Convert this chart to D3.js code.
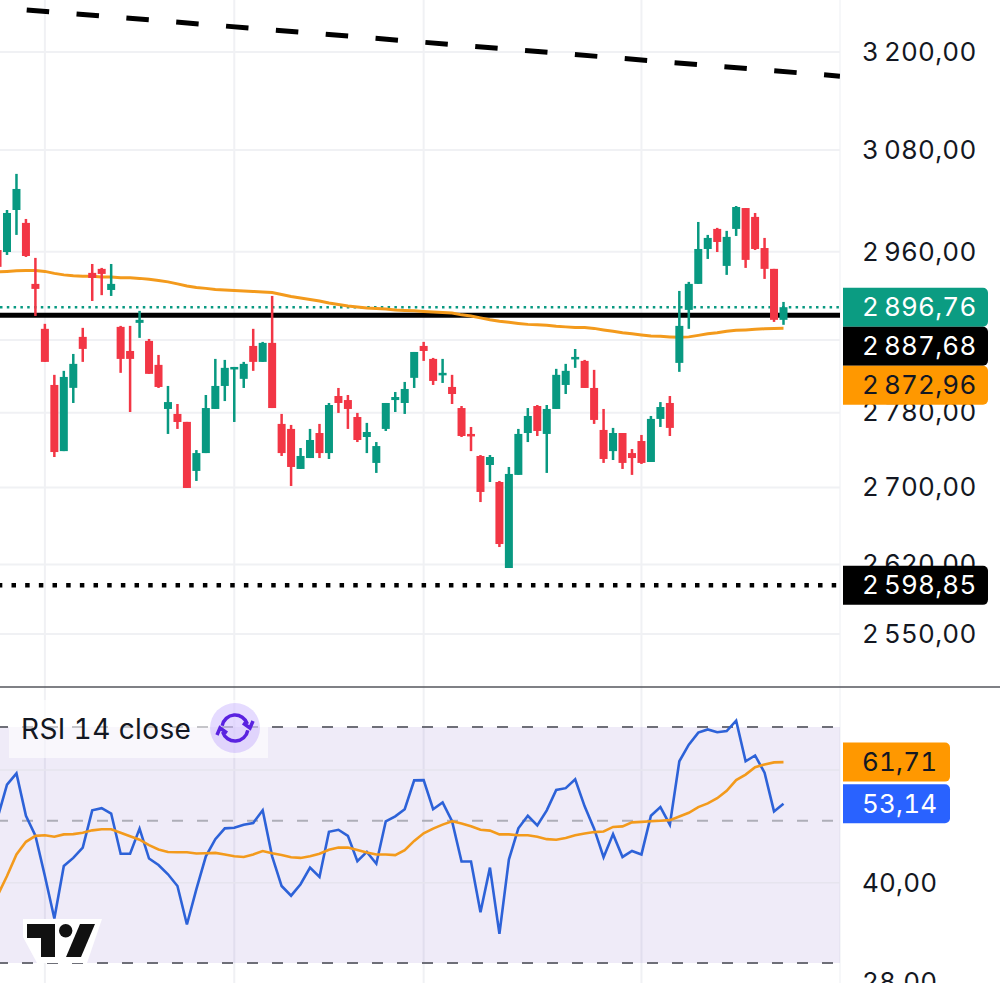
<!DOCTYPE html>
<html>
<head>
<meta charset="utf-8">
<script src="https://cdn.jsdelivr.net/npm/d3@7"></script>
<style>
html, body { margin: 0; padding: 0; background: #fff; overflow: hidden; }
svg { display: block; }
text { font-family: Inter, "Noto Sans", sans-serif; fill: #131722; font-variant-numeric: tabular-nums; }
</style>
</head>
<body>
<div id="chart"></div>
<script>
// Candles, the first one is cut by the left edge
var firstIndex = -1;
var openPrice = [2962.1,2959.8,3008.7,2993.6,2923.2,2872.4,2810.2,2738.6,2807,2863.4,2935.8,2940.4,2916.3,2874.6,2847.7,2879.1,2858.9,2832.3,2784,2778.6,2770,2717.5,2736.5,2784,2809.1,2827.9,2816.9,2853.3,2835.6,2856.7,2767.8,2762.4,2719.6,2731.2,2758,2736.5,2798.1,2793.7,2775.3,2753.7,2726,2762.4,2793.7,2790.5,2818,2853.3,2838.9,2822.4,2808,2785,2757,2733.4,2723.8,2705.8,2616.5,2713.3,2758,2787.2,2757,2784,2810.2,2838.9,2836.7,2806.9,2761.3,2738.6,2758,2736.5,2749.4,2727,2773.2,2790.5,2834.5,2893.7,2923.2,2963.3,2986.6,2943.8,2986.6,3011,3000.6,2964.4,2940.4,2882.5];
var highPrice = [2962.1,3008.7,3051.4,2998.2,2953,2878,2821.3,2825.7,2844.4,2873.5,2946,2941.5,2946,2875.7,2875.7,2892.6,2861.1,2843.3,2809.1,2789.4,2770,2739.7,2799.2,2838.9,2837.8,2830,2835.6,2872.4,2857.8,2909.5,2778.6,2766.7,2741.9,2762.4,2767.8,2790.5,2806.9,2799.2,2779.7,2768.9,2748.3,2790.5,2802.5,2813.5,2846.6,2857.8,2840,2838.9,2821.3,2787.2,2764.5,2734.4,2734.4,2706.9,2721.7,2762.4,2785,2788.3,2788.3,2827.9,2833.4,2849.9,2837.8,2826.8,2784,2763.5,2758,2740.8,2755.9,2776.4,2791.5,2798.1,2915.2,2925.5,2994.7,2979.6,2987.8,2984.3,3013.4,3011,3005.2,2976.1,2940.4,2902.7];
var lowPrice = [2942.7,2956.4,2979.6,2954.1,2886.9,2835.6,2732.3,2738.6,2790.5,2835.6,2903.8,2910.4,2909.5,2823.5,2780.7,2862.3,2822.4,2806.9,2757,2762.4,2699.5,2706.9,2736.5,2784,2792.6,2769.9,2806.9,2825.7,2835.6,2785,2733.4,2701.6,2719.6,2731.2,2731.2,2730.2,2779.7,2762.4,2748.3,2736.5,2715.4,2760.2,2780.7,2778.6,2806.9,2836.7,2810.2,2812.4,2789.4,2753.7,2738.6,2684.7,2705.8,2638,2616.5,2713.3,2748.3,2754.8,2715.4,2784,2800.3,2829,2806.9,2767.8,2726,2729.1,2719.6,2713.3,2724.9,2727,2764.5,2754.8,2824.6,2872.4,2923.2,2951.8,2959.8,2933.5,2978.4,2941.5,2962.1,2928.9,2880.2,2876.9];
var closePrice = [2942.7,3005.2,3033.5,2955.2,2917.5,2835.6,2737.6,2819,2833.4,2850,2930,2934.6,2923.2,2838.9,2838.9,2882.5,2822.4,2808,2791.5,2769.9,2699.5,2736.5,2785,2809.1,2829,2830,2833.4,2835.6,2856.7,2785,2736.5,2721.7,2733.4,2750.5,2736.5,2788.3,2790.5,2784,2750.5,2759.1,2744,2790.5,2797,2805.8,2846.6,2847.7,2814.6,2823.5,2800.3,2754.8,2754.8,2695.3,2732.3,2641.1,2714.3,2757,2776.4,2760.2,2784,2821.3,2825.7,2841.1,2806.9,2772.1,2730.2,2758,2726,2731.2,2726,2773.2,2786.1,2763.5,2875.7,2923.2,2963.3,2976.1,2971.4,2977.3,3012.2,2950.7,2963.3,2940.4,2882.5,2896.76];
var movingAvg = [2936.9,2937.5,2938.1,2938.6,2938.4,2937.5,2935.2,2933.5,2932.4,2931.8,2931.8,2931.2,2931.2,2930.1,2930.1,2929.5,2928.4,2927.2,2925.5,2923.2,2920.9,2919.2,2918.1,2916.9,2916.3,2915.8,2915.2,2914.6,2914.1,2913.5,2911.2,2908.9,2907.2,2905.5,2903.8,2901.5,2899.9,2898.2,2897,2895.9,2895.4,2894.8,2893.7,2893.1,2892.6,2892,2891.4,2890.9,2890.3,2888.1,2886.9,2884.7,2882.5,2880.8,2879.7,2878.5,2877.4,2876.9,2876.3,2875.2,2874.6,2874,2874,2872.9,2871.2,2869.6,2867.9,2866.8,2865.6,2864.5,2864,2863.4,2862.9,2863.4,2865.1,2866.8,2867.9,2869.6,2870.7,2871.2,2871.8,2872.4,2872.9,2872.96];

// RSI pane
var rsiValue = [50.5,56.9,59.26,50.9,47.4,41,35.2,42.5,43.75,45.4,51.9,52.3,51.3,44.4,44.4,48.6,43.65,42.65,41.25,39.55,34.45,39.1,44,46.8,48.65,48.75,49.3,49.6,51.9,44,39.55,38.2,39.8,42.25,40.85,48.05,48.4,47.35,43.25,44.7,42.85,49.9,50.8,52.1,57.8,57.85,52.1,53.4,49.9,43.2,43.2,36,42.25,33.3,43.5,48.65,50.9,49.15,51.9,55.85,56.2,58,52.65,48.6,43.85,47.65,43.9,44.85,44.3,50.9,52.5,49.3,61.9,65.7,68.6,69.4,68.7,69,71.6,61.9,63.2,59.4,51.7,53.14];
var rsiAvg = [38.2,41,44.3,46.35,47.35,47.45,47.2,47.6,47.65,47.9,48.3,48.5,48.5,47.9,47.3,46.7,45.8,45.1,44.7,44.65,44.65,44.45,44.5,44.55,44.3,44,43.9,44.3,44.85,44.5,44.2,43.85,43.75,44,44.4,45.05,45.4,45.4,45,44.6,44.3,44.3,44.2,45,46.5,47.8,48.6,49.3,49.9,49.5,49,48.4,48.25,47.6,47.6,47.45,47.45,47.2,46.8,46.7,47,47.45,47.75,48,48.1,48.9,49,49.7,49.8,49.9,50,50.1,50.75,51.45,52.5,53.2,54.2,55.65,57.85,59,60.6,61.2,61.65,61.71];

var priceTicks = [3200, 3080, 2960, 2860, 2780, 2700, 2620, 2550];
var hiddenPriceTicks = [2860]; // sits under the price tags
var rsiGrid = [60, 40];
var rsiDashed = [70, 50, 30];
var rsiTicks = [40, 28];
var timeGrid = [4, 24, 44, 67];
var trendIndex = [2.08, 87.96];
var trendPrice = [3253, 3170];
var lastClose = 2896.76, supportHigh = 2887.68, maLast = 2872.96, supportLow = 2598.85;
var rsiLast = 53.14, rsiAvgLast = 61.71;

var WIDTH = 1000, HEIGHT = 983;
var PLOT_RIGHT = 840, PANE_SPLIT = 687;
var UP = '#089981', DOWN = '#f23645', ORANGE = '#f39a1c', BLUE = '#2d62d8';

var locale = d3.formatLocale({ decimal: ',', thousands: '\u2009', grouping: [3], currency: ['', ''] });
var fmt = locale.format(',.2f');

var x = d3.scaleLinear().domain([firstIndex, 82]).range([-2.47, 783.5]);
var yPrice = d3.scaleLog().domain([3200, 2550]).range([52, 634]);
var yRsi = d3.scaleLog().domain([70, 30]).range([727, 963]);

var svg = d3.select('#chart').append('svg')
    .attr('width', WIDTH)
    .attr('height', HEIGHT);

var defs = svg.append('defs');
defs.append('clipPath').attr('id', 'price-clip').append('rect')
    .attr('width', PLOT_RIGHT).attr('height', PANE_SPLIT);
defs.append('clipPath').attr('id', 'rsi-clip').append('rect')
    .attr('y', PANE_SPLIT).attr('width', PLOT_RIGHT).attr('height', HEIGHT - PANE_SPLIT);

// time grid runs through both panes
svg.append('g').selectAll('line')
    .data(timeGrid)
  .enter().append('line')
    .attr('x1', function(d) { return x(d); })
    .attr('x2', function(d) { return x(d); })
    .attr('y1', 0)
    .attr('y2', HEIGHT)
    .attr('stroke', '#f0f1f4')
    .attr('stroke-width', 2);

svg.append('line')
    .attr('x1', PLOT_RIGHT).attr('x2', PLOT_RIGHT)
    .attr('y1', 0).attr('y2', HEIGHT)
    .attr('stroke', '#f3f4f7')
    .attr('stroke-width', 1.5);

// price pane
var pricePane = svg.append('g').attr('clip-path', 'url(#price-clip)');

pricePane.append('g').selectAll('line')
    .data(priceTicks)
  .enter().append('line')
    .attr('x1', 0)
    .attr('x2', PLOT_RIGHT)
    .attr('y1', function(d) { return yPrice(d); })
    .attr('y2', function(d) { return yPrice(d); })
    .attr('stroke', '#f0f1f4')
    .attr('stroke-width', 2);

function hline(value, width, dash, color, offset) {
    pricePane.append('line')
        .attr('x1', 0)
        .attr('x2', PLOT_RIGHT)
        .attr('y1', yPrice(value))
        .attr('y2', yPrice(value))
        .attr('stroke', color)
        .attr('stroke-width', width)
        .attr('stroke-dasharray', dash)
        .attr('stroke-dashoffset', offset || 0);
}
hline(lastClose, 2.5, '2.5,4.3', UP);
hline(supportHigh, 5, null, '#000');
hline(supportLow, 4.5, '4.5,9.17', '#000', 2.17);

var trend = d3.line()
    .x(function(d) { return x(d[0]); })
    .y(function(d) { return yPrice(d[1]); });
pricePane.append('path')
    .attr('d', trend(d3.zip(trendIndex, trendPrice)))
    .attr('fill', 'none')
    .attr('stroke', '#000')
    .attr('stroke-width', 5)
    .attr('stroke-dasharray', '22.5,27.5');

function seriesLine(scale) {
    return d3.line()
        .x(function(d, i) { return x(firstIndex + i); })
        .y(function(d) { return scale(d); });
}

pricePane.append('path')
    .attr('d', seriesLine(yPrice)(movingAvg))
    .attr('fill', 'none')
    .attr('stroke', ORANGE)
    .attr('stroke-width', 3);

var candles = pricePane.append('g').selectAll('g')
    .data(d3.range(openPrice.length))
  .enter().append('g')
    .attr('fill', function(i) { return closePrice[i] >= openPrice[i] ? UP : DOWN; });

candles.append('rect')
    .attr('x', function(i) { return x(firstIndex + i) - 1.25; })
    .attr('width', 2.5)
    .attr('y', function(i) { return yPrice(highPrice[i]); })
    .attr('height', function(i) { return yPrice(lowPrice[i]) - yPrice(highPrice[i]); });

candles.append('rect')
    .attr('x', function(i) { return x(firstIndex + i) - 4; })
    .attr('width', 8)
    .attr('y', function(i) { return yPrice(Math.max(openPrice[i], closePrice[i])); })
    .attr('height', function(i) {
        return Math.max(2.5, Math.abs(yPrice(openPrice[i]) - yPrice(closePrice[i])));
    });

// pane separator
svg.append('line')
    .attr('x1', 0).attr('x2', WIDTH)
    .attr('y1', PANE_SPLIT).attr('y2', PANE_SPLIT)
    .attr('stroke', '#55565c')
    .attr('stroke-width', 1.5);

// RSI pane
var rsiPane = svg.append('g').attr('clip-path', 'url(#rsi-clip)');

rsiPane.append('rect')
    .attr('x', 0)
    .attr('width', PLOT_RIGHT)
    .attr('y', yRsi(70))
    .attr('height', yRsi(30) - yRsi(70))
    .attr('fill', '#7e57c2')
    .attr('fill-opacity', 0.12);

rsiPane.append('g').selectAll('line')
    .data(rsiGrid)
  .enter().append('line')
    .attr('x1', 0)
    .attr('x2', PLOT_RIGHT)
    .attr('y1', function(d) { return yRsi(d); })
    .attr('y2', function(d) { return yRsi(d); })
    .attr('stroke', '#e6e4ee')
    .attr('stroke-width', 1.5);

rsiPane.append('g').selectAll('line')
    .data(rsiDashed)
  .enter().append('line')
    .attr('x1', -3)
    .attr('x2', PLOT_RIGHT)
    .attr('y1', function(d) { return yRsi(d); })
    .attr('y2', function(d) { return yRsi(d); })
    .attr('stroke', function(d) { return d === 50 ? '#aeaeb8' : '#6e6f78'; })
    .attr('stroke-width', 2)
    .attr('stroke-dasharray', '11,14');

rsiPane.append('path')
    .attr('d', seriesLine(yRsi)(rsiValue))
    .attr('fill', 'none')
    .attr('stroke', BLUE)
    .attr('stroke-width', 2.6);

rsiPane.append('path')
    .attr('d', seriesLine(yRsi)(rsiAvg))
    .attr('fill', 'none')
    .attr('stroke', ORANGE)
    .attr('stroke-width', 2.6);

// legend
svg.append('rect')
    .attr('x', 9).attr('y', 700)
    .attr('width', 259).attr('height', 58)
    .attr('fill', '#fff')
    .attr('fill-opacity', 0.6);
svg.append('text')
    .attr('x', 21).attr('y', 739)
    .attr('font-size', 28)
    .attr('letter-spacing', 0.4)
    .text('RSI 14 close');

var icon = svg.append('g').attr('transform', 'translate(235,728)');
icon.append('circle').attr('r', 25).attr('fill', '#7c4dff').attr('fill-opacity', 0.2);
var iconArc = d3.arc().innerRadius(13).outerRadius(13);
[[-1.4, 1.25], [1.75, 4.4]].forEach(function(a) {
    icon.append('path')
        .attr('d', iconArc({ startAngle: a[0], endAngle: a[1] }))
        .attr('fill', 'none')
        .attr('stroke', '#5a22e0')
        .attr('stroke-width', 3.5);
});
[0, 180].forEach(function(r) {
    icon.append('path')
        .attr('d', 'M8,-5L15,0L18,-7')
        .attr('transform', 'rotate(' + r + ')')
        .attr('fill', 'none')
        .attr('stroke', '#5a22e0')
        .attr('stroke-width', 3.5);
});

// TradingView mark
var logo = svg.append('g');
logo.append('path')
    .attr('d', 'M23,919H102L87,963H37L23,937Z')
    .attr('fill', '#fff');
logo.append('path')
    .attr('d', 'M27,924H55V957H41V938H27Z')
    .attr('fill', '#111');
logo.append('circle')
    .attr('cx', 65.7).attr('cy', 930.7).attr('r', 6.7)
    .attr('fill', '#111');
logo.append('path')
    .attr('d', 'M80,924H95L81,957H66Z')
    .attr('fill', '#111');

// right scale labels
var AXIS_X = 862;
var LABEL_SPACING = 0.2;
function tickLabels(values, scale) {
    svg.append('g').selectAll('text')
        .data(values)
      .enter().append('text')
        .attr('x', AXIS_X)
        .attr('y', function(d) { return scale(d); })
        .attr('dy', '0.34em')
        .attr('font-size', 26)
        .attr('letter-spacing', LABEL_SPACING)
        .text(fmt);
}
tickLabels(priceTicks.filter(function(d) { return hiddenPriceTicks.indexOf(d) < 0; }), yPrice);
tickLabels(rsiTicks, yRsi);

function tagPath(top, width, height) {
    var r = 5, left = 843;
    return 'M' + left + ',' + top + 'H' + (left + width - r) +
        'A' + r + ',' + r + ' 0 0 1 ' + (left + width) + ',' + (top + r) +
        'V' + (top + height - r) +
        'A' + r + ',' + r + ' 0 0 1 ' + (left + width - r) + ',' + (top + height) +
        'H' + left + 'Z';
}

// tags push each other down when they would overlap
function drawTags(tags, scale, width) {
    var height = 39, bottom = -Infinity;
    tags.forEach(function(t) {
        var top = Math.max(scale(t.value) - height / 2, bottom);
        bottom = top + height;
        svg.append('path')
            .attr('d', tagPath(top, width, height))
            .attr('fill', t.fill);
        svg.append('text')
            .attr('x', AXIS_X)
            .attr('y', top + height / 2)
            .attr('dy', '0.34em')
            .attr('font-size', 26)
            .attr('letter-spacing', LABEL_SPACING)
            .style('fill', t.color)
            .text(fmt(t.value));
    });
}
drawTags([
    { value: lastClose, fill: '#0b9c82', color: '#fff' },
    { value: supportHigh, fill: '#000', color: '#fff' },
    { value: maLast, fill: '#ff9800', color: '#131722' }
], yPrice, 145);
drawTags([{ value: supportLow, fill: '#000', color: '#fff' }], yPrice, 145);
drawTags([
    { value: rsiAvgLast, fill: '#ff9800', color: '#131722' },
    { value: rsiLast, fill: '#2962ff', color: '#fff' }
], yRsi, 107);
</script>
</body>
</html>
